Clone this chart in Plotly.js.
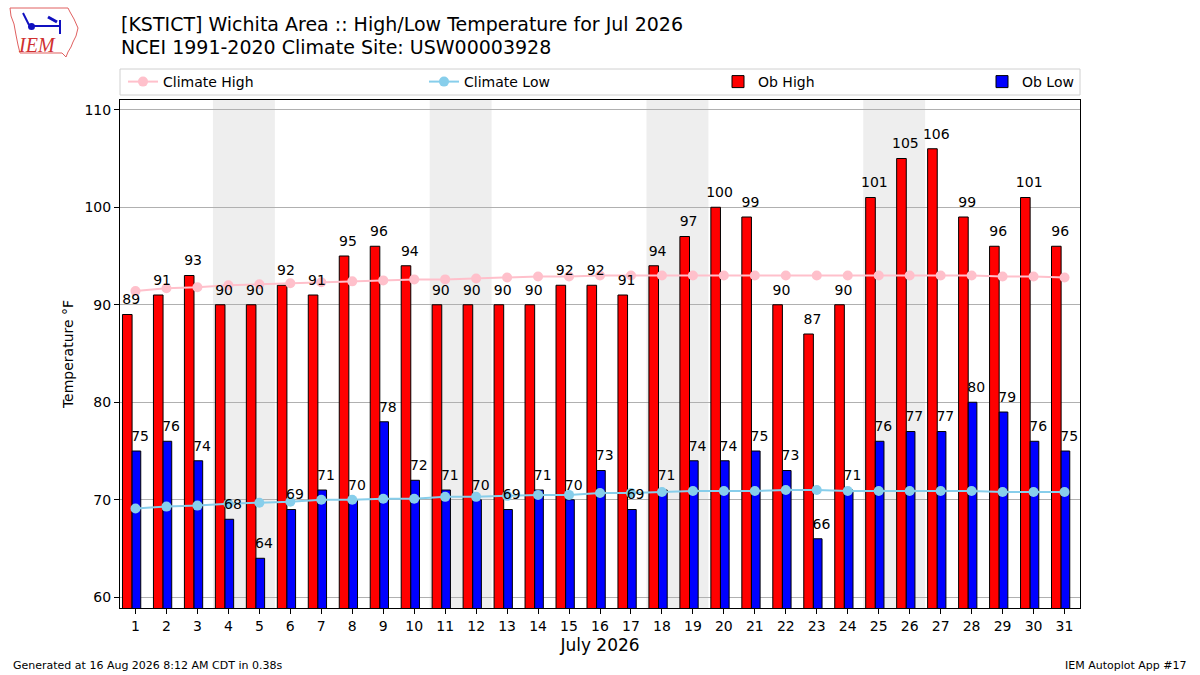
<!DOCTYPE html>
<html>
<head>
<meta charset="utf-8">
<script src="https://cdn.plot.ly/plotly-3.0.1.min.js"></script>
<style>
  html, body { margin: 0; padding: 0; background: #fff; }
  #chart { width: 1200px; height: 675px; }
</style>
</head>
<body>
<div id="chart"></div>
<script>
// July 2026 daily observations, Wichita (KSTICT)
const days = [1,2,3,4,5,6,7,8,9,10,11,12,13,14,15,16,17,18,19,20,21,22,23,24,25,26,27,28,29,30,31];
const obHigh = [89,91,93,90,90,92,91,95,96,94,90,90,90,90,92,92,91,94,97,100,99,90,87,90,101,105,106,99,96,101,96];
const obLow = [75,76,74,68,64,69,71,70,78,72,71,70,69,71,70,73,69,71,74,74,75,73,66,71,76,77,77,80,79,76,75];
// NCEI 1991-2020 daily normals
const climHigh = [91.4,91.7,91.8,92.0,92.1,92.2,92.3,92.4,92.5,92.6,92.6,92.7,92.8,92.9,92.9,93.0,93.0,93.0,93.0,93.0,93.0,93.0,93.0,93.0,93.0,93.0,93.0,93.0,92.9,92.9,92.8];
const climLow = [69.1,69.3,69.4,69.6,69.7,69.8,70.0,70.0,70.1,70.1,70.3,70.3,70.4,70.5,70.5,70.7,70.7,70.8,70.9,70.9,70.9,71.0,71.0,70.9,70.9,70.9,70.9,70.9,70.8,70.8,70.8];
// weekend (Sat/Sun) start days
const weekendStarts = [4, 11, 18, 25];

const FONT = 'DejaVu Sans, sans-serif';

// pixel -> paper helpers for decoration outside the plot area
const L = 120, R = 120, T = 100, B = 67, W = 1200, H = 675;
const px = v => (v - L) / (W - L - R);
const py = v => (H - B - v) / (H - T - B);

let traces = [
  {
    x: days, y: obHigh, type: 'bar', name: 'Ob High',
    offset: -0.42, width: 0.31,
    marker: {color: '#ff0000', line: {color: '#000', width: 1}},
    legend: 'legend3', hoverinfo: 'x+y'
  },
  {
    x: days, y: obLow, type: 'bar', name: 'Ob Low',
    offset: -0.11, width: 0.28,
    marker: {color: '#0000ff', line: {color: '#000', width: 1}},
    legend: 'legend4', hoverinfo: 'x+y'
  },
  {
    x: days, y: climHigh, type: 'scatter', mode: 'lines+markers', name: 'Climate High',
    line: {color: '#ffc0cb', width: 2}, marker: {color: '#ffc0cb', size: 10},
    legend: 'legend'
  },
  {
    x: days, y: climLow, type: 'scatter', mode: 'lines+markers', name: 'Climate Low',
    line: {color: '#87ceeb', width: 2}, marker: {color: '#87ceeb', size: 10},
    legend: 'legend2'
  },
  // value labels, drawn on top of the climate lines (invisible marker pads the gap)
  {
    x: days.map(d => d - 0.14), y: obHigh, type: 'scatter', mode: 'markers+text',
    marker: {size: 9, opacity: 0}, text: obHigh.map(String), textposition: 'top center', cliponaxis: false,
    textfont: {family: FONT, size: 14, color: '#000'}, showlegend: false, hoverinfo: 'skip'
  },
  {
    x: days.map(d => d + 0.15), y: obLow, type: 'scatter', mode: 'markers+text',
    marker: {size: 9, opacity: 0}, text: obLow.map(String), textposition: 'top center', cliponaxis: false,
    textfont: {family: FONT, size: 14, color: '#000'}, showlegend: false, hoverinfo: 'skip'
  }
];

let shapes = weekendStarts.map(d => ({
  type: 'rect', xref: 'x', yref: 'paper', x0: d - 0.5, x1: d + 1.5, y0: 0, y1: 1,
  fillcolor: '#eeeeee', line: {width: 0}, layer: 'below'
}));

// legend frame
shapes.push({
  type: 'rect', xref: 'paper', yref: 'paper', x0: 0, x1: 1, y0: py(95), y1: py(69),
  line: {color: '#d0d0d0', width: 1}, fillcolor: 'rgba(255,255,255,0.8)'
});

// IEM logo, rough outline
const iowa = [[10,8],[68,8],[70,12],[74,19],[78,28],[76,36],[73,42],[71,47],[68,52],[66,57],[62,53],[20,53],[18,45],[16,35],[14,24],[11,16]];
shapes.push({
  type: 'path', xref: 'paper', yref: 'paper',
  path: 'M ' + iowa.map(p => px(p[0]).toFixed(5) + ',' + py(p[1]).toFixed(5)).join(' L ') + ' Z',
  line: {color: '#e06060', width: 1}
});
shapes.push({type: 'line', xref: 'paper', yref: 'paper', x0: px(31), x1: px(60), y0: py(26), y1: py(26), line: {color: '#1010c0', width: 2}});
shapes.push({type: 'line', xref: 'paper', yref: 'paper', x0: px(23), x1: px(29), y0: py(13), y1: py(25), line: {color: '#1010c0', width: 2}});
shapes.push({type: 'line', xref: 'paper', yref: 'paper', x0: px(48), x1: px(57), y0: py(17), y1: py(22), line: {color: '#1010c0', width: 3}});
shapes.push({type: 'line', xref: 'paper', yref: 'paper', x0: px(60), x1: px(60), y0: py(20), y1: py(34), line: {color: '#1010c0', width: 2}});
shapes.push({type: 'circle', xref: 'paper', yref: 'paper', x0: px(28), x1: px(35), y0: py(23), y1: py(30), fillcolor: '#1010c0', line: {width: 0}});

const legendBase = {
  orientation: 'h', yanchor: 'middle', y: py(82), xanchor: 'left',
  bgcolor: 'rgba(0,0,0,0)', borderwidth: 0,
  font: {family: FONT, size: 14, color: '#000'}
};

let layout = {
  width: W, height: H,
  margin: {l: L, r: R, t: T, b: B},
  paper_bgcolor: '#fff', plot_bgcolor: '#fff',
  font: {family: FONT, size: 14, color: '#000'},
  barmode: 'overlay',
  showlegend: true,
  legend: Object.assign({}, legendBase, {x: px(123)}),
  legend2: Object.assign({}, legendBase, {x: px(424)}),
  legend3: Object.assign({}, legendBase, {x: px(718)}),
  legend4: Object.assign({}, legendBase, {x: px(982)}),
  xaxis: {
    range: [0.5, 31.5], tickmode: 'array', tickvals: days, ticktext: days.map(String),
    ticks: 'outside', ticklen: 5, tickcolor: '#000',
    showline: true, linecolor: '#000', linewidth: 1, mirror: true,
    showgrid: false, zeroline: false,
    tickfont: {family: FONT, size: 14},
    title: {text: 'July 2026', font: {family: FONT, size: 17}, standoff: 6}
  },
  yaxis: {
    range: [58.9, 111], tickvals: [60, 70, 80, 90, 100, 110],
    ticks: 'outside', ticklen: 5, tickcolor: '#000',
    showline: true, linecolor: '#000', linewidth: 1, mirror: true,
    showgrid: true, gridcolor: '#b0b0b0', gridwidth: 1, zeroline: false,
    tickfont: {family: FONT, size: 14},
    title: {text: 'Temperature °F', font: {family: FONT, size: 14}, standoff: 7}
  },
  shapes: shapes,
  annotations: [
    {
      text: '[KSTICT] Wichita Area :: High/Low Temperature for Jul 2026', xref: 'paper', yref: 'paper',
      x: px(119), y: py(24), xanchor: 'left', yanchor: 'middle', showarrow: false,
      font: {family: FONT, size: 19, color: '#000'}
    },
    {
      text: 'NCEI 1991-2020 Climate Site: USW00003928', xref: 'paper', yref: 'paper',
      x: px(119), y: py(47), xanchor: 'left', yanchor: 'middle', showarrow: false,
      font: {family: FONT, size: 19, color: '#000'}
    },
    {
      text: 'IEM', xref: 'paper', yref: 'paper', x: px(37), y: py(45), xanchor: 'center', yanchor: 'middle',
      showarrow: false, font: {family: 'Liberation Serif, serif', size: 20, color: '#d03030', style: 'italic'}
    },
    {
      text: 'Generated at 16 Aug 2026 8:12 AM CDT in 0.38s', xref: 'paper', yref: 'paper',
      x: px(11), y: py(665), xanchor: 'left', yanchor: 'middle', showarrow: false,
      font: {family: FONT, size: 11, color: '#000'}
    },
    {
      text: 'IEM Autoplot App #17', xref: 'paper', yref: 'paper',
      x: px(1189), y: py(665), xanchor: 'right', yanchor: 'middle', showarrow: false,
      font: {family: FONT, size: 11, color: '#000'}
    }
  ]
};

Plotly.newPlot('chart', traces, layout, {displayModeBar: false, staticPlot: true});
</script>
</body>
</html>
